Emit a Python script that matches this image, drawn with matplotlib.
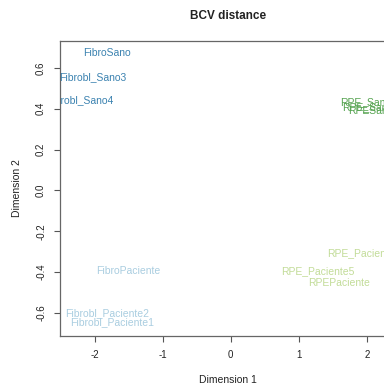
import matplotlib
matplotlib.use("Agg")
import matplotlib.pyplot as plt

plt.rcParams['font.family'] = ['Liberation Sans', 'DejaVu Sans']

# Coordenadas MDS (dimension 1, dimension 2) de cada muestra
muestras = ['FibroSano', 'Fibrobl_Sano3', 'Fibrobl_Sano4',
            'RPE_Sano1', 'RPE_Sano2', 'RPESano',
            'RPE_Paciente4', 'RPE_Paciente5', 'RPEPaciente',
            'FibroPaciente', 'Fibrobl_Paciente2', 'Fibrobl_Paciente1']
dim1 = [-1.82, -2.03, -2.22,
        2.03, 2.06, 2.06,
        1.95, 1.28, 1.59,
        -1.50, -1.81, -1.75]
dim2 = [0.673, 0.556, 0.44,
        0.431, 0.407, 0.387,
        -0.309, -0.395, -0.451,
        -0.395, -0.603, -0.647]
grupo = ['FS', 'FS', 'FS', 'RS', 'RS', 'RS',
         'RP', 'RP', 'RP', 'FP', 'FP', 'FP']
colores = {'FS': '#3b82b0', 'RS': '#55a350', 'RP': '#c2dc98', 'FP': '#a9cde0'}

fig = plt.figure(figsize=(3.84, 3.85), dpi=100)
ax = fig.add_axes([60 / 384, 1 - 336 / 385, 336 / 384, 295 / 385])

for nombre, x, y, g in zip(muestras, dim1, dim2, grupo):
    ax.text(x, y, nombre, color=colores[g], fontsize=7.5,
            ha='center', va='center', clip_on=True)

ax.set_xlim(-2.51, 2.43)
ax.set_ylim(-0.713, 0.732)
ax.set_xticks([-2, -1, 0, 1, 2])
ax.set_yticks([-0.6, -0.4, -0.2, 0.0, 0.2, 0.4, 0.6])
ax.set_xticklabels(['-2', '-1', '0', '1', '2'])
ax.set_yticklabels(['-0.6', '-0.4', '-0.2', '0.0', '0.2', '0.4', '0.6'],
                   rotation=90, va='center')
ax.tick_params(labelsize=7, length=4, width=0.8, color='#555555',
               labelcolor='#222222')
ax.tick_params(axis='x', pad=6)
ax.tick_params(axis='y', pad=6)
for s in ax.spines.values():
    s.set_color('#666666')
    s.set_linewidth(0.9)

ax.set_xlabel('Dimension 1', fontsize=7.5, labelpad=11, color='#222222')
ax.set_ylabel('Dimension 2', fontsize=7.5, labelpad=10, color='#222222')
ax.set_title('BCV distance', fontsize=8.5, fontweight='bold', pad=16,
             color='#222222')

fig.savefig('out.png', dpi=100)
